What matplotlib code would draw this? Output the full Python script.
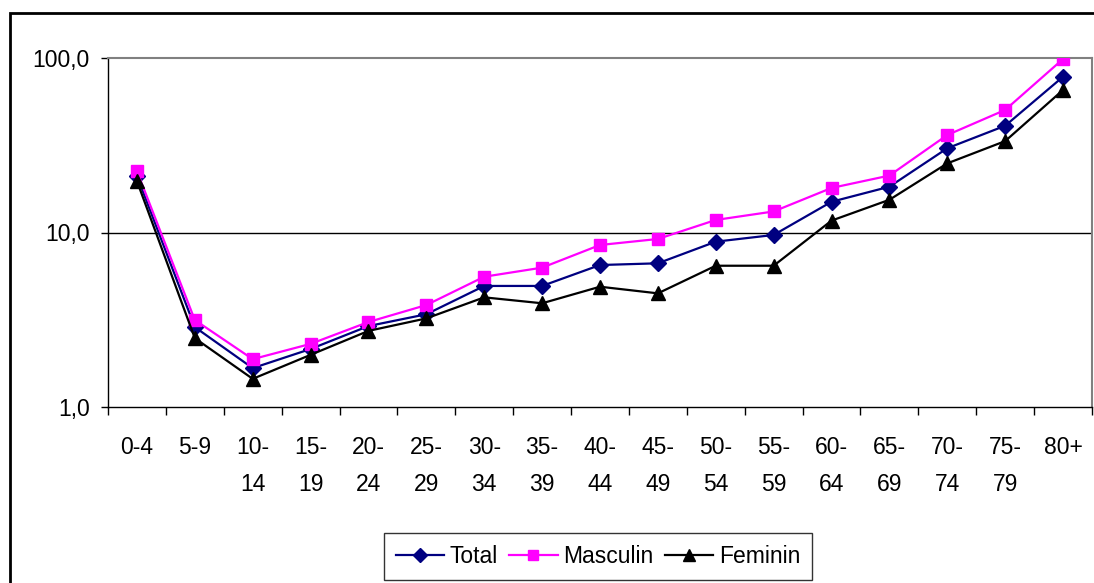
import matplotlib
matplotlib.use("Agg")
import matplotlib.pyplot as plt
from matplotlib.ticker import FixedLocator, FuncFormatter, NullLocator
from matplotlib.patches import Rectangle
from matplotlib import font_manager

categories = ["0-4", "5-9", "10-\n14", "15-\n19", "20-\n24", "25-\n29", "30-\n34", "35-\n39",
              "40-\n44", "45-\n49", "50-\n54", "55-\n59", "60-\n64", "65-\n69", "70-\n74",
              "75-\n79", "80+"]
total = [21.1, 2.87, 1.67, 2.15, 2.91, 3.40, 4.94, 4.94, 6.51, 6.66, 8.86, 9.68, 15.0, 18.3, 30.4, 40.9, 78.1]
masculin = [22.5, 3.15, 1.88, 2.30, 3.07, 3.84, 5.58, 6.29, 8.48, 9.18, 11.8, 13.2, 18.0, 21.2, 36.2, 50.4, 98.7]
feminin = [19.7, 2.48, 1.45, 1.99, 2.73, 3.22, 4.25, 3.93, 4.89, 4.48, 6.45, 6.45, 11.7, 15.4, 24.9, 33.4, 65.6]
series_names = ["Total", "Masculin", "Feminin"]

names = {f.name for f in font_manager.fontManager.ttflist}
narrow = "Liberation Sans Narrow" in names
if narrow:
    plt.rcParams['font.family'] = ['Liberation Sans Narrow', 'DejaVu Sans']
    FS = 19
    LS = 1.55
else:
    plt.rcParams['font.family'] = ['Liberation Sans', 'DejaVu Sans']
    FS = 16.5
    LS = 1.75

W, H = 1094, 583
fig = plt.figure(figsize=(W / 100, H / 100), dpi=100)
ax = fig.add_axes([108 / W, 1 - 407 / H, (1092 - 108) / W, (407 - 58) / H])

x = list(range(len(categories)))
ax.plot(x, total, color="#000080", lw=1.6, marker="D", markersize=8, label=series_names[0], zorder=3)
ax.plot(x, masculin, color="#FF00FF", lw=1.6, marker="s", markersize=8.5, label=series_names[1], zorder=4)
ax.plot(x, feminin, color="black", lw=1.6, marker="^", markersize=9.5, label=series_names[2], zorder=5)

ax.set_yscale("log")
ax.set_ylim(1, 100)
ax.yaxis.set_major_locator(FixedLocator([1, 10, 100]))
ax.yaxis.set_minor_locator(NullLocator())
ax.yaxis.set_major_formatter(FuncFormatter(lambda v, p: f"{v:.1f}".replace(".", ",")))
ax.axhline(10, color="black", lw=1, zorder=1)

ax.set_xlim(-0.5, len(categories) - 0.5)
ax.xaxis.set_major_locator(FixedLocator([i - 0.5 for i in range(len(categories) + 1)]))
ax.xaxis.set_major_formatter(FuncFormatter(lambda v, p: ""))
ax.xaxis.set_minor_locator(FixedLocator(x))
ax.set_xticklabels(categories, minor=True, linespacing=LS)
ax.tick_params(axis="x", which="major", direction="out", length=6, width=1, color="black")
ax.tick_params(axis="x", which="minor", length=0, pad=21, labelsize=FS)
ax.tick_params(axis="y", which="major", direction="out", length=5, width=1, pad=8, labelsize=FS)

for s in ["top", "right"]:
    ax.spines[s].set_color("#808080")
    ax.spines[s].set_linewidth(1.5)
for s in ["left", "bottom"]:
    ax.spines[s].set_color("black")
    ax.spines[s].set_linewidth(1)

leg = ax.legend(loc="upper center", bbox_to_anchor=(598 / W, 1 - 533 / H), bbox_transform=fig.transFigure,
                ncol=3, frameon=True, fancybox=False, fontsize=FS, handlelength=2.1,
                handletextpad=0.25, columnspacing=0.5, borderpad=0.52, borderaxespad=0,
                markerscale=0.85)
leg.get_frame().set_edgecolor("black")
leg.get_frame().set_linewidth(1)

fig.patches.append(Rectangle((10 / W, -0.2), 1.5, 1 - 13 / H + 0.2, transform=fig.transFigure,
                             fill=False, edgecolor="black", lw=2, figure=fig))

fig.savefig("out.png", dpi=100)
